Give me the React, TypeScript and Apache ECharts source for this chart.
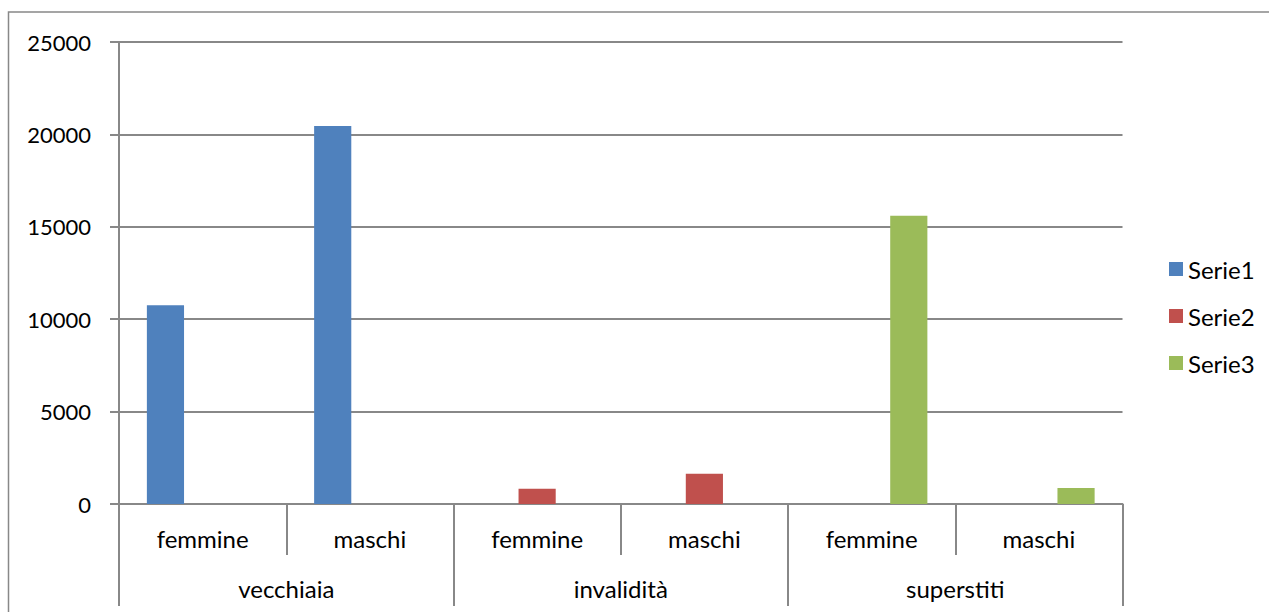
import React, { useEffect, useRef } from "react";
import * as echarts from "echarts";

const subCategories = ["femmine", "maschi", "femmine", "maschi", "femmine", "maschi"];
const groups = ["vecchiaia", "invalidità", "superstiti"];
const serie1 = [10750, 20450, null, null, null, null];
const serie2 = [null, null, 820, 1640, null, null];
const serie3 = [null, null, null, null, 15600, 860];
const yTicks = { min: 0, max: 25000, interval: 5000 };

const FONT = "Lato, 'Open Sans', sans-serif";
const GRAY = "#888888";

export default function App() {
  const ref = useRef<HTMLDivElement>(null);
  useEffect(() => {
    if (!ref.current) return;
    const chart = echarts.init(ref.current, undefined, { renderer: "svg" });
    const mkBar = (name: string, data: (number | null)[], color: string) => ({
      name,
      type: "bar",
      data,
      barGap: "0%",
      barCategoryGap: "33.33%",
      itemStyle: { color },
      xAxisIndex: 0,
      yAxisIndex: 0,
    });
    chart.setOption({
      animation: false,
      backgroundColor: "#ffffff",
      textStyle: { fontFamily: FONT },
      graphic: [
        {
          type: "rect",
          shape: { x: 8.5, y: 12, width: 1400, height: 800 },
          style: { fill: "none", stroke: GRAY, lineWidth: 1.5 },
          silent: true,
          z: -1,
        },
      ],
      grid: { left: 119, right: 146.5, top: 42, bottom: 108, containLabel: false },
      legend: {
        orient: "vertical",
        left: 1164,
        top: 252,
        itemWidth: 14,
        itemHeight: 14,
        itemGap: 23,
        icon: "rect",
        textStyle: { fontFamily: FONT, fontSize: 24, color: "#000" },
        data: ["Serie1", "Serie2", "Serie3"],
      },
      xAxis: [
        {
          type: "category",
          data: subCategories,
          position: "bottom",
          axisLine: { show: true, lineStyle: { color: GRAY, width: 2 } },
          axisTick: { show: true, length: 51, interval: 0, alignWithLabel: false, lineStyle: { color: GRAY, width: 2 } },
          axisLabel: { interval: 0, margin: 22, fontSize: 24, fontFamily: FONT, color: "#000" },
        },
        {
          type: "category",
          data: groups,
          position: "bottom",
          axisLine: { show: false },
          axisTick: { show: true, length: 102, interval: 0, lineStyle: { color: GRAY, width: 2 } },
          axisLabel: { interval: 0, margin: 72, fontSize: 24, fontFamily: FONT, color: "#000" },
          splitLine: { show: false },
        },
      ],
      yAxis: {
        type: "value",
        min: yTicks.min,
        max: yTicks.max,
        interval: yTicks.interval,
        axisLine: { show: true, lineStyle: { color: GRAY, width: 2 } },
        axisTick: { show: true, length: 9, lineStyle: { color: GRAY, width: 2 } },
        axisLabel: {
          margin: 28,
          fontSize: 22,
          fontFamily: FONT,
          color: "#000",
          formatter: (v: number) => String(v),
        },
        splitLine: { show: true, lineStyle: { color: GRAY, width: 2 } },
      },
      series: [
        mkBar("Serie1", serie1, "#4f81bd"),
        mkBar("Serie2", serie2, "#c0504d"),
        mkBar("Serie3", serie3, "#9bbb59"),
      ],
    });
    return () => chart.dispose();
  }, []);
  return (
    <div
      ref={ref}
      style={{ position: "fixed", left: 0, top: 0, width: 1269, height: 612, background: "#fff" }}
    />
  );
}
